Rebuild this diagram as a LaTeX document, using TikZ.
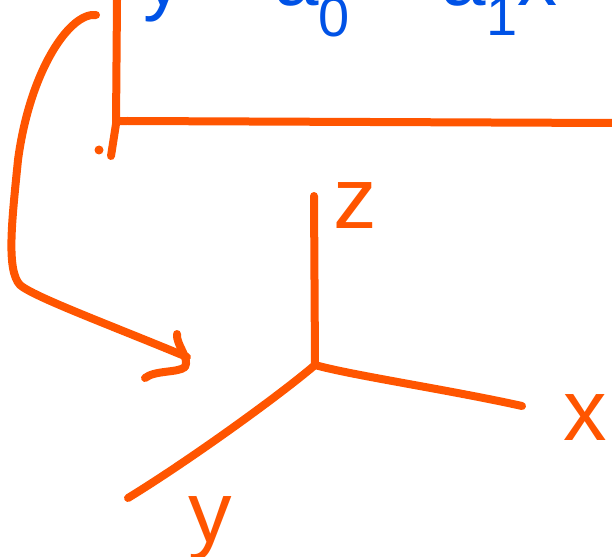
\documentclass[tikz,border=0pt]{standalone}
\usepackage{fontspec}
\setsansfont{Liberation Sans}
\usetikzlibrary{positioning,calc}
\definecolor{penorange}{RGB}{255,85,0}
\definecolor{penblue}{RGB}{0,82,230}
\tikzset{
  penline/.style={line width=8pt, line cap=round, line join=round, draw=penorange},
  axislabel/.style={font=\sffamily\fontsize{87}{87}\selectfont, text=penorange, inner sep=0pt},
  eqlabel/.style={font=\sffamily\fontsize{80}{80}\selectfont, text=penblue, inner sep=0pt}
}
\begin{document}
\begin{tikzpicture}[x=1pt, y=-1pt]
  \useasboundingbox (0,0) rectangle (612,556);
  \node[eqlabel, anchor=base west] (eq) at (143,6) {y = a\textsubscript{0} + a\textsubscript{1}x +};

  \coordinate (frametop) at (117,0);
  \coordinate (framecorner) at (116,124);
  \coordinate (framebottom) at (111,156);
  \coordinate (frameright) at (612,123);
  \draw[penline] (frametop) -- (framecorner) -- (framebottom);
  \draw[penline] (framecorner) .. controls (117,121) .. (128,121) -- (frameright);
  \fill[penorange] (99,150) circle (4.5pt);

  \coordinate (arrowstart) at (96,15);
  \coordinate (arrowtip) at (187,357);
  \draw[penline] (arrowstart) .. controls (70,12) and (30,70) .. (18,160)
    .. controls (12,220) and (6,270) .. (20,285)
    .. controls (34,297) and (110,325) .. (arrowtip);
  \draw[penline] (177,334) .. controls (176,345) and (190,358) .. (185,367)
    .. controls (178,373) and (155,370) .. (145,378);

  \coordinate (origin) at (315,365);
  \coordinate (ztip) at (314,196);
  \coordinate (xtip) at (522,406);
  \coordinate (ytip) at (128,498);
  \draw[penline] (origin) -- (ztip);
  \draw[penline] (origin) .. controls (350,375) and (450,390) .. (xtip);
  \draw[penline] (origin) .. controls (280,395) and (190,460) .. (ytip);

  \node[axislabel, anchor=base] (zlabel) at (355,228) {z};
  \node[axislabel, anchor=base] (xlabel) at (585,440) {x};
  \node[axislabel, anchor=base] (ylabel) at (210,542) {y};
\end{tikzpicture}
\end{document}
